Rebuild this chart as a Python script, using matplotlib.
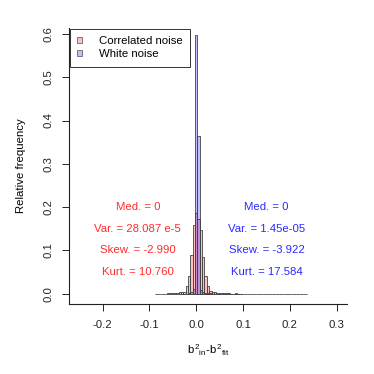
import numpy as np
import matplotlib
matplotlib.use("Agg")
import matplotlib.pyplot as plt
from matplotlib.patches import Patch

plt.rcParams['font.family'] = ['Liberation Sans', 'DejaVu Sans']
plt.rcParams['mathtext.fontset'] = 'custom'
plt.rcParams['mathtext.rm'] = 'Liberation Sans'
plt.rcParams['mathtext.it'] = 'Liberation Sans'
plt.rcParams['font.size'] = 8.2

# histogram data (relative frequency per bin, bin width 0.005)
bin_width = 0.005
corr_first_center = -0.085
corr_freq = [0, 0, 0.0005, 0, 0.0005, 0.001, 0.001, 0.0015, 0.002, 0.002, 0.003, 0.004,
             0.004, 0.017, 0.040, 0.090, 0.159, 0.187, 0.173, 0.148, 0.086, 0.040, 0.017, 0.006,
             0.004, 0.003, 0.002, 0.002, 0.0015, 0.001, 0.001, 0.001, 0.0005, 0.0005,
             0.001, 0.0005, 0.0005, 0.0005, 0, 0.0005, 0, 0, 0.0005, 0, 0, 0,
             0, 0, 0, 0, 0, 0, 0, 0, 0, 0, 0, 0, 0, 0, 0, 0, 0, 0, 0]
white_first_center = -0.030
white_freq = [0, 0, 0, 0.001, 0.003, 0.012, 0.598, 0.365, 0.008, 0.003, 0.002, 0.001,
              0.001, 0.0005, 0.0005, 0, 0.0005, 0, 0, 0, 0, 0, 0, 0, 0, 0]

corr_stats = ["Med. = 0", "Var. = 28.087 e-5", "Skew. = -2.990", "Kurt. = 10.760"]
white_stats = ["Med. = 0", "Var. = 1.45e-05", "Skew. = -3.922", "Kurt. = 17.584"]
stats_y = [0.2, 0.15, 0.1, 0.05]

corr_centers = corr_first_center + bin_width * np.arange(len(corr_freq))
white_centers = white_first_center + bin_width * np.arange(len(white_freq))

fig = plt.figure(figsize=(3.74, 3.74), dpi=100)
ax = fig.add_axes([69/374, 70/374, 278/374, 276/374])

ax.bar(corr_centers, corr_freq, width=bin_width, color=(1, 0, 0, 0.25),
       edgecolor='#444444', linewidth=0.6)
ax.bar(white_centers, white_freq, width=bin_width, color=(0, 0, 1, 0.25),
       edgecolor='#444444', linewidth=0.6)

for s, y in zip(corr_stats, stats_y):
    ax.text(-0.125, y, s, color='#ff2a2a', ha='center', va='center')
for s, y in zip(white_stats, stats_y):
    ax.text(0.15, y, s, color='#2a2aff', ha='center', va='center')

ax.set_xlim(-0.272, 0.322)
ax.set_ylim(-0.0236, 0.6136)
ax.set_xticks([-0.2, -0.1, 0.0, 0.1, 0.2, 0.3])
ax.set_xticklabels(["-0.2", "-0.1", "0.0", "0.1", "0.2", "0.3"])
ax.set_yticks([0, 0.1, 0.2, 0.3, 0.4, 0.5, 0.6])
ax.set_yticklabels(["0.0", "0.1", "0.2", "0.3", "0.4", "0.5", "0.6"], rotation=90, va='center')
ax.tick_params(length=5, width=0.7, pad=6.5, colors='#222222', labelsize=8.2)
for side in ['top', 'right']:
    ax.spines[side].set_visible(False)
for side in ['left', 'bottom']:
    ax.spines[side].set_linewidth(0.8)
    ax.spines[side].set_color('#222222')

ax.set_ylabel("Relative frequency", labelpad=12)
ax.set_xlabel(r"$b^{2}{}_{in}$-$b^{2}{}_{fit}$", labelpad=9)

handles = [Patch(facecolor=(1, 0, 0, 0.25), edgecolor='#666666', linewidth=0.6),
           Patch(facecolor=(0, 0, 1, 0.25), edgecolor='#666666', linewidth=0.6)]
leg = ax.legend(handles, ["Correlated noise", "White noise"], loc='upper left',
                bbox_to_anchor=(0, 1), borderaxespad=0.05, fancybox=False,
                handlelength=0.4, handleheight=0.4, handletextpad=1.5,
                labelspacing=0.3, borderpad=0.65, framealpha=1)
leg.get_frame().set_edgecolor('#333333')
leg.get_frame().set_linewidth(0.7)

fig.savefig("out.png", dpi=100)
